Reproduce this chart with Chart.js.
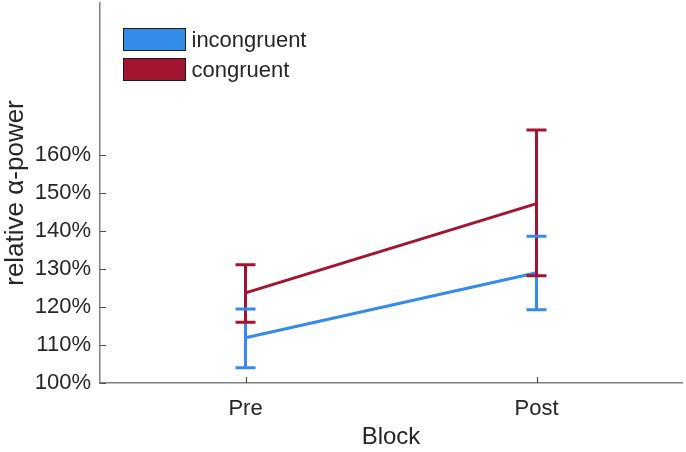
<!DOCTYPE html>
<html>
<head>
<meta charset="utf-8">
<script src="https://cdn.jsdelivr.net/npm/chart.js@4/dist/chart.umd.min.js"></script>
<style>
  html, body { margin: 0; padding: 0; background: #fff; }
  #wrap { width: 686px; height: 452px; }
</style>
</head>
<body>
<div id="wrap"><canvas id="chart" width="686" height="452"></canvas></div>
<script>
const blocks = ['Pre', 'Post'];
const blockPos = [1, 2];
const yTicks = [100, 110, 120, 130, 140, 150, 160];

const incongruentMean = [111.9, 129.0];
const incongruentLow = [104.0, 119.3];
const incongruentHigh = [119.5, 138.6];

const congruentMean = [123.7, 147.2];
const congruentLow = [116.0, 128.2];
const congruentHigh = [131.1, 166.6];

const blue = '#348ce9';
const red = '#a2142f';
const textColor = '#262626';
const font = 'Liberation Sans, Arial, Helvetica, sans-serif';

// error bars, inward tick marks and the boxed legend, drawn through the chart scales
const errorBars = {
  id: 'errorBars',
  afterDatasetsDraw(chart) {
    const ctx = chart.ctx;
    const x = chart.scales.x;
    const y = chart.scales.y;
    const area = chart.chartArea;
    const cap = 10;
    const bars = [];
    chart.data.datasets.forEach(ds => {
      ds.data.forEach((pt, i) => {
        bars.push({ px: x.getPixelForValue(pt.x), lo: y.getPixelForValue(ds.low[i]), hi: y.getPixelForValue(ds.high[i]), color: ds.borderColor });
      });
    });
    ctx.save();
    ctx.lineWidth = 3;
    ctx.lineCap = 'butt';
    bars.forEach(b => {
      ctx.strokeStyle = b.color;
      ctx.beginPath();
      ctx.moveTo(b.px, b.lo);
      ctx.lineTo(b.px, b.hi);
      ctx.stroke();
    });
    bars.forEach(b => {
      ctx.strokeStyle = b.color;
      ctx.beginPath();
      ctx.moveTo(b.px - cap, b.lo);
      ctx.lineTo(b.px + cap, b.lo);
      ctx.moveTo(b.px - cap, b.hi);
      ctx.lineTo(b.px + cap, b.hi);
      ctx.stroke();
    });

    // small inward ticks
    ctx.strokeStyle = '#4d4d4d';
    ctx.lineWidth = 1.2;
    ctx.beginPath();
    y.ticks.forEach(t => {
      const py = Math.round(y.getPixelForValue(t.value)) + 0.5;
      ctx.moveTo(area.left, py);
      ctx.lineTo(area.left + 6, py);
    });
    x.ticks.forEach(t => {
      const px = Math.round(x.getPixelForValue(t.value)) + 0.5;
      ctx.moveTo(px, area.bottom);
      ctx.lineTo(px, area.bottom - 6);
    });
    ctx.stroke();

    // legend
    ctx.font = '22px ' + font;
    ctx.textBaseline = 'middle';
    ctx.textAlign = 'left';
    chart.data.datasets.forEach((ds, i) => {
      const bx = area.left + 23.5;
      const by = area.top + 25.5 + i * 30;
      ctx.fillStyle = ds.borderColor;
      ctx.fillRect(bx, by, 62, 22);
      ctx.strokeStyle = '#1a1a1a';
      ctx.lineWidth = 1;
      ctx.strokeRect(bx, by, 62, 22);
      ctx.fillStyle = textColor;
      ctx.fillText(ds.label, bx + 68, by + 12);
    });
    ctx.restore();
  }
};

new Chart(document.getElementById('chart'), {
  type: 'line',
  data: {
    datasets: [
      {
        label: 'incongruent',
        data: blockPos.map((p, i) => ({ x: p, y: incongruentMean[i] })),
        low: incongruentLow,
        high: incongruentHigh,
        borderColor: blue,
        backgroundColor: blue,
        borderWidth: 3,
        pointRadius: 0,
        tension: 0
      },
      {
        label: 'congruent',
        data: blockPos.map((p, i) => ({ x: p, y: congruentMean[i] })),
        low: congruentLow,
        high: congruentHigh,
        borderColor: red,
        backgroundColor: red,
        borderWidth: 3,
        pointRadius: 0,
        tension: 0
      }
    ]
  },
  options: {
    responsive: false,
    animation: false,
    layout: { padding: { top: 3, right: 4, left: 0, bottom: 0 } },
    plugins: {
      tooltip: { enabled: false },
      legend: { display: false }
    },
    scales: {
      x: {
        type: 'linear',
        min: 0.5,
        max: 2.5,
        afterBuildTicks(scale) { scale.ticks = blockPos.map(v => ({ value: v })); },
        afterFit(scale) { scale.height = 69; },
        grid: { display: false, drawTicks: false },
        border: { display: true, color: '#808080', width: 1.5 },
        ticks: {
          padding: 13,
          color: textColor,
          font: { family: font, size: 22 },
          callback: v => blocks[blockPos.indexOf(v)]
        },
        title: {
          display: true,
          text: 'Block',
          color: textColor,
          font: { family: font, size: 24 },
          padding: { top: 0, bottom: 0 }
        }
      },
      y: {
        min: 100,
        max: 200,
        afterBuildTicks(scale) { scale.ticks = yTicks.map(v => ({ value: v })); },
        afterFit(scale) { scale.width = 100; scale.paddingTop = 0; scale.paddingBottom = 0; },
        grid: { display: false, drawTicks: false },
        border: { display: true, color: '#808080', width: 1.5 },
        ticks: {
          padding: 9,
          color: textColor,
          font: { family: font, size: 22 },
          callback: v => v + '%'
        },
        title: {
          display: true,
          text: 'relative α-power',
          color: textColor,
          font: { family: font, size: 26 },
          padding: { top: 0, bottom: 0 }
        }
      }
    }
  },
  plugins: [errorBars]
});
</script>
</body>
</html>
